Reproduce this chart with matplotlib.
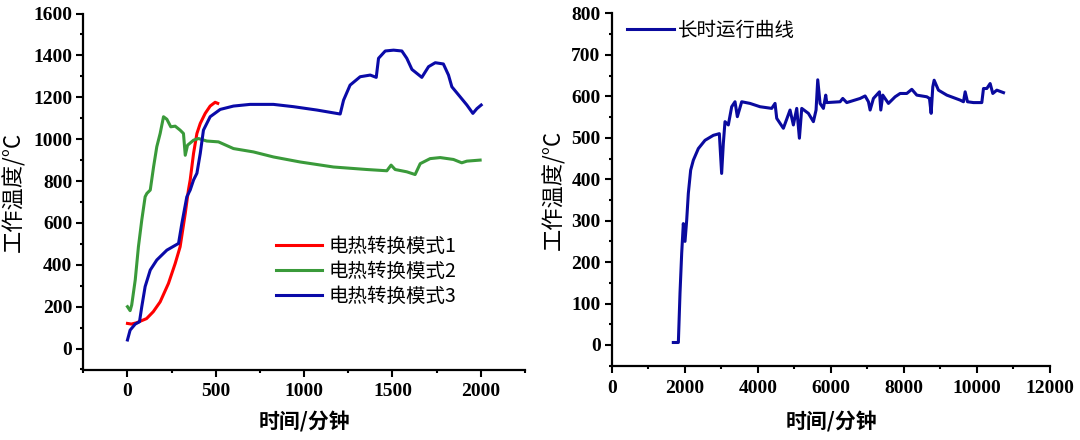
import matplotlib
matplotlib.use("Agg")
import matplotlib.pyplot as plt
from matplotlib.ticker import MultipleLocator
from matplotlib.font_manager import FontProperties

# ---------------- data ----------------
mode1_x = [0, 22, 51, 108, 146, 185, 232, 270, 298, 327, 345, 355, 374, 393, 412, 440, 468, 496, 511]
mode1_y = [120, 117, 123, 143, 176, 223, 311, 406, 486, 645, 757, 805, 932, 1027, 1075, 1123, 1158, 1176, 1171]

mode2_x = [0, 15, 24, 44, 62, 81, 100, 110, 129, 148, 166, 185, 204, 223, 245, 270, 298, 317, 327,
           340, 374, 402, 449, 515, 600, 713, 826, 977, 1166, 1355, 1468, 1492, 1515, 1581, 1628,
           1657, 1713, 1770, 1845, 1892, 1921, 1996]
mode2_y = [200, 181, 208, 328, 486, 614, 725, 741, 757, 869, 964, 1027, 1107, 1095, 1059, 1062, 1043, 1027, 923,
           971, 995, 1003, 991, 987, 955, 939, 915, 891, 867, 855, 849, 876, 855, 844, 831,
           883, 907, 912, 903, 887, 895, 900]

mode3_x = [0, 15, 44, 68, 81, 100, 129, 166, 223, 289, 308, 336, 355, 374, 393, 412, 430, 468, 525, 600,
           694, 826, 940, 1072, 1204, 1223, 1260, 1317, 1374, 1408, 1421, 1459, 1506, 1553, 1581, 1610,
           1666, 1704, 1742, 1788, 1817, 1836, 1883, 1921, 1955, 1978, 2002]
mode3_y = [41, 88, 117, 128, 200, 296, 375, 423, 470, 502, 598, 725, 757, 805, 837, 932, 1043, 1107, 1142, 1158,
           1166, 1166, 1155, 1139, 1120, 1186, 1258, 1298, 1306, 1295, 1386, 1421, 1425, 1421, 1386, 1333,
           1295, 1346, 1365, 1359, 1306, 1250, 1202, 1163, 1123, 1146, 1163]

long_x = [1687, 1825, 1870, 1916, 1961, 2007, 2053, 2098, 2162, 2235, 2372, 2555, 2783, 2947, 3010, 3056,
          3102, 3193, 3285, 3376, 3440, 3559, 3787, 4061, 4381, 4472, 4518, 4700, 4883, 4974, 5066,
          5139, 5203, 5385, 5522, 5595, 5641, 5705, 5796, 5860, 5887, 6253, 6326, 6436, 6801, 6938,
          7029, 7075, 7166, 7331, 7367, 7422, 7577, 7760, 7897, 8079, 8216, 8353, 8627, 8700, 8746,
          8791, 8828, 8946, 9175, 9540, 9631, 9677, 9741, 9905, 10133, 10179, 10270, 10361, 10434,
          10544, 10727]
long_y = [6, 6, 125, 221, 293, 250, 301, 366, 422, 446, 474, 494, 506, 510, 414, 486,
          539, 531, 575, 587, 551, 587, 583, 575, 571, 583, 547, 523, 567, 531, 571,
          499, 571, 559, 539, 567, 640, 583, 571, 603, 585, 587, 595, 585, 595, 601,
          587, 567, 595, 611, 567, 603, 583, 599, 607, 607, 617, 603, 599, 595, 559,
          623, 639, 615, 603, 591, 587, 611, 587, 585, 585, 619, 619, 631, 607,
          615, 609]

left_labels = ["电热转换模式1", "电热转换模式2", "电热转换模式3"]
right_label = "长时运行曲线"
xlabel_text = "时间/分钟"
ylabel_text = "工作温度/°C"

# ---------------- styling ----------------
plt.rcParams["font.family"] = ["Liberation Serif", "DejaVu Serif"]
plt.rcParams["font.weight"] = "bold"
plt.rcParams["xtick.labelsize"] = 14
plt.rcParams["ytick.labelsize"] = 14

W, H = 1080, 440
fig = plt.figure(figsize=(W / 100, H / 100), dpi=100)

cjk = ["Noto Sans CJK SC", "DejaVu Sans"]


def px_axes(l, r, t, b):
    return [l / W, 1 - b / H, (r - l) / W, (b - t) / H]


def style(ax, xmaj, xmin, ymaj, ymin):
    for s in ["top", "right"]:
        ax.spines[s].set_visible(False)
    for s in ["left", "bottom"]:
        ax.spines[s].set_linewidth(1.6)
    ax.xaxis.set_major_locator(MultipleLocator(xmaj))
    ax.xaxis.set_minor_locator(MultipleLocator(xmin))
    ax.yaxis.set_major_locator(MultipleLocator(ymaj))
    ax.yaxis.set_minor_locator(MultipleLocator(ymin))
    ax.tick_params(which="major", direction="out", length=5, width=1.5, pad=3)
    ax.tick_params(which="minor", direction="out", length=2.5, width=1.5)
    ax.tick_params(axis="x", which="major", pad=5)


# Left axes
ax1 = fig.add_axes(px_axes(83.3, 525, 13.5, 369.5))
ax1.plot(mode1_x, mode1_y, color="#ff0000", lw=2.2, label=left_labels[0])
ax1.plot(mode2_x, mode2_y, color="#3a9a3a", lw=2.2, label=left_labels[1])
ax1.plot(mode3_x, mode3_y, color="#0a0aa8", lw=2.2, label=left_labels[2])
ax1.set_xlim(-250, 2250)
ax1.set_ylim(-100, 1600)
style(ax1, 500, 250, 200, 100)
ax1.set_xticks([0, 500, 1000, 1500, 2000])
ax1.set_yticks([0, 200, 400, 600, 800, 1000, 1200, 1400, 1600])

leg_font = FontProperties(family=cjk, size=14, weight="normal")
ax1.legend(loc="upper left", bbox_to_anchor=(275.7 / W, 1 - 236 / H),
           bbox_transform=fig.transFigure, frameon=False, borderpad=0, borderaxespad=0,
           handlelength=2.4, handletextpad=0.33, labelspacing=0.2, prop=leg_font)

# Right axes
ax2 = fig.add_axes(px_axes(611.7, 1050, 13.5, 365.7))
ax2.plot(long_x, long_y, color="#0a0a9e", lw=2.2, label=right_label)
ax2.set_xlim(0, 12000)
ax2.set_ylim(-50, 800)
style(ax2, 2000, 1000, 100, 50)
ax2.set_xticks([0, 2000, 4000, 6000, 8000, 10000, 12000])
ax2.set_yticks([0, 100, 200, 300, 400, 500, 600, 700, 800])
ax2.legend(loc="upper left", bbox_to_anchor=(627.3 / W, 1 - 20 / H),
           bbox_transform=fig.transFigure, frameon=False, borderpad=0, borderaxespad=0,
           handlelength=2.4, handletextpad=0.2, prop=leg_font)

# Axis labels
fig.text(304 / W, 1 - 422 / H, xlabel_text, ha="center", va="center",
         family=cjk, size=15, weight="bold")
fig.text(831 / W, 1 - 422 / H, xlabel_text, ha="center", va="center",
         family=cjk, size=15, weight="bold")
fig.text(13.5 / W, 1 - 192 / H, ylabel_text, ha="center", va="center", rotation=90,
         family=cjk, size=16, weight="normal")
fig.text(553.7 / W, 1 - 190 / H, ylabel_text, ha="center", va="center", rotation=90,
         family=cjk, size=16, weight="normal")

fig.savefig("out.png", dpi=100)
